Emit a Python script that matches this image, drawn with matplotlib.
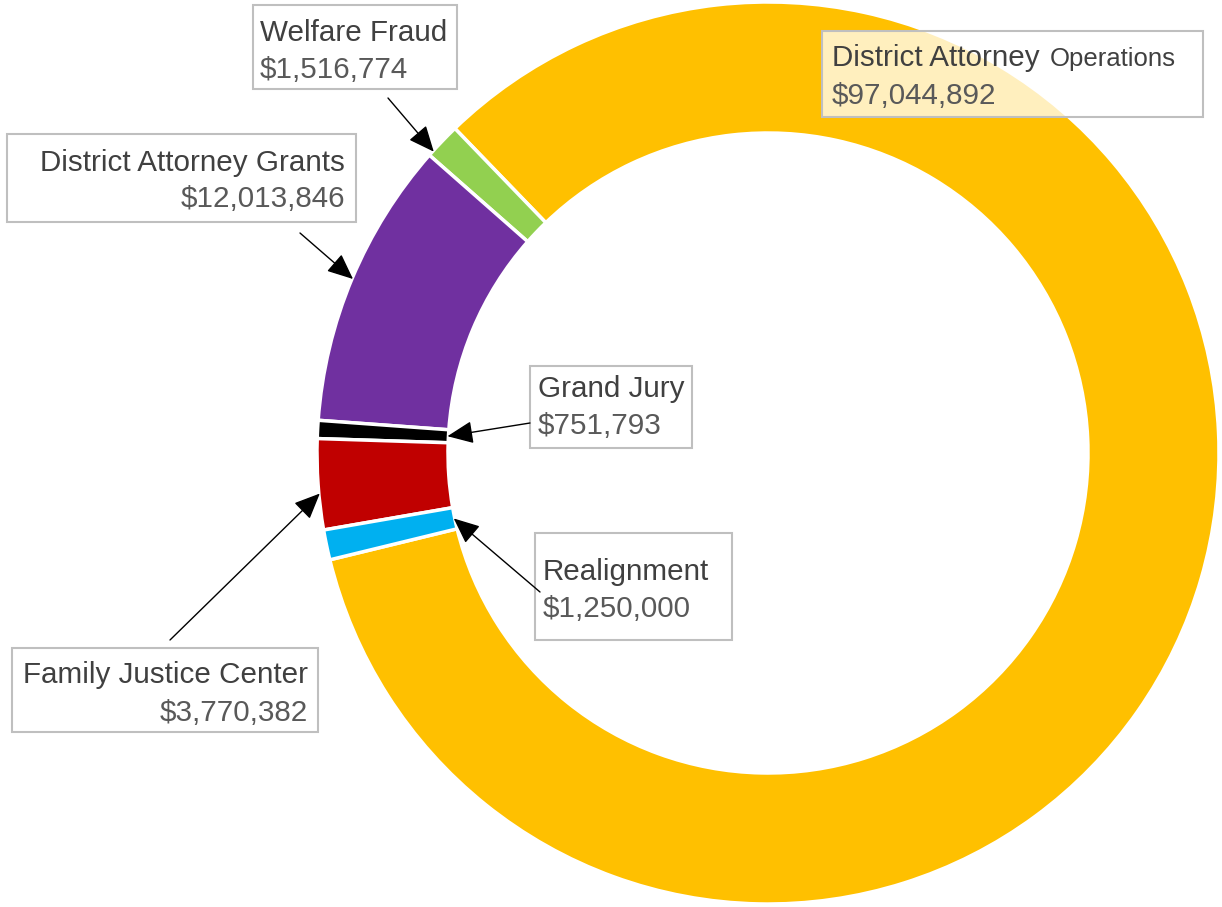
import matplotlib
matplotlib.use('Agg')
import matplotlib.pyplot as plt
from matplotlib.patches import Rectangle
import numpy as np

# ---- data ----
categories = ['District Attorney Operations', 'Welfare Fraud', 'District Attorney Grants',
              'Grand Jury', 'Family Justice Center', 'Realignment']
values = [97044892, 1516774, 12013846, 751793, 3770382, 1250000]
colors = ['#FFC000', '#92D050', '#7030A0', '#000000', '#C00000', '#00B0F0']
value_labels = ['${:,}'.format(v) for v in values]

plt.rcParams['font.family'] = ['Liberation Sans', 'DejaVu Sans']

W, H = 1222, 907
fig = plt.figure(figsize=(W / 100, H / 100), dpi=100)
ax = fig.add_axes([0, 0, 1, 1])

cx, cy = 768, H - 453
R = 451
ring = 131
wedges, _ = ax.pie(values, colors=colors, startangle=193.7, counterclock=True,
                   radius=R, center=(cx, cy),
                   wedgeprops=dict(width=ring, edgecolor='white', linewidth=2.5))
ax.set_xlim(0, W)
ax.set_ylim(0, H)
ax.set_aspect('equal')
ax.axis('off')

NAME_C = '#404040'
VAL_C = '#595959'
FS = 21.3
EDGE = '#BFBFBF'


def iy(y):
    return H - y


def box(x0, y0, x1, y1, alpha=1.0):
    ax.add_patch(Rectangle((x0, iy(y1)), x1 - x0, y1 - y0, facecolor=(1, 1, 1, alpha),
                           edgecolor=EDGE, linewidth=1.5, zorder=5))


def tip(i, t, outer=True):
    w = wedges[i]
    th = np.deg2rad(w.theta1 + t * (w.theta2 - w.theta1))
    r = R - 1 if outer else R - ring + 1
    return (cx + r * np.cos(th), cy + r * np.sin(th))


def arrow(i, start, t, outer):
    ax.annotate('', xy=tip(i, t, outer), xytext=(start[0], iy(start[1])),
                arrowprops=dict(arrowstyle='-|>,head_length=0.8,head_width=0.35',
                                mutation_scale=20, color='black', lw=1.0,
                                shrinkA=0, shrinkB=0), zorder=7)


def two_lines(i, x, yb1, yb2, ha):
    ax.text(x, iy(yb1), categories[i], ha=ha, va='baseline', fontsize=FS, color=NAME_C, zorder=6)
    ax.text(x, iy(yb2), value_labels[i], ha=ha, va='baseline', fontsize=FS, color=VAL_C, zorder=6)


# Welfare Fraud
box(253, 5, 457, 89)
two_lines(1, 260, 41, 78, 'left')
arrow(1, (388, 98), 0.85, True)

# District Attorney Grants
box(7, 134, 356, 222)
two_lines(2, 345, 171, 207, 'right')
arrow(2, (300, 233), 0.5, True)

# Grand Jury
box(530, 366, 692, 448)
two_lines(3, 538, 397, 434, 'left')
arrow(3, (530, 423), 0.5, False)

# Realignment
box(535, 533, 732, 640)
two_lines(5, 543, 580, 617, 'left')
arrow(5, (540, 592), 0.5, False)

# Family Justice Center
box(12, 648, 318, 732)
two_lines(4, 308, 683, 721, 'right')
arrow(4, (170, 640), 0.6, True)

# District Attorney Operations (mixed sizes)
box(822, 31, 1203, 117, alpha=0.75)
name_parts = categories[0].rsplit(' ', 1)
t1 = ax.text(832, iy(66), name_parts[0], ha='left', va='baseline', fontsize=FS,
             color=NAME_C, zorder=6)
fig.canvas.draw()
bb = t1.get_window_extent(renderer=fig.canvas.get_renderer())
x_end = ax.transData.inverted().transform((bb.x1, bb.y0))[0]
ax.text(x_end + 10, iy(66), name_parts[1], ha='left', va='baseline', fontsize=18.5,
        color=NAME_C, zorder=6)
ax.text(832, iy(104), value_labels[0], ha='left', va='baseline', fontsize=FS,
        color=VAL_C, zorder=6)

fig.savefig('out.png', dpi=100, facecolor='white')
